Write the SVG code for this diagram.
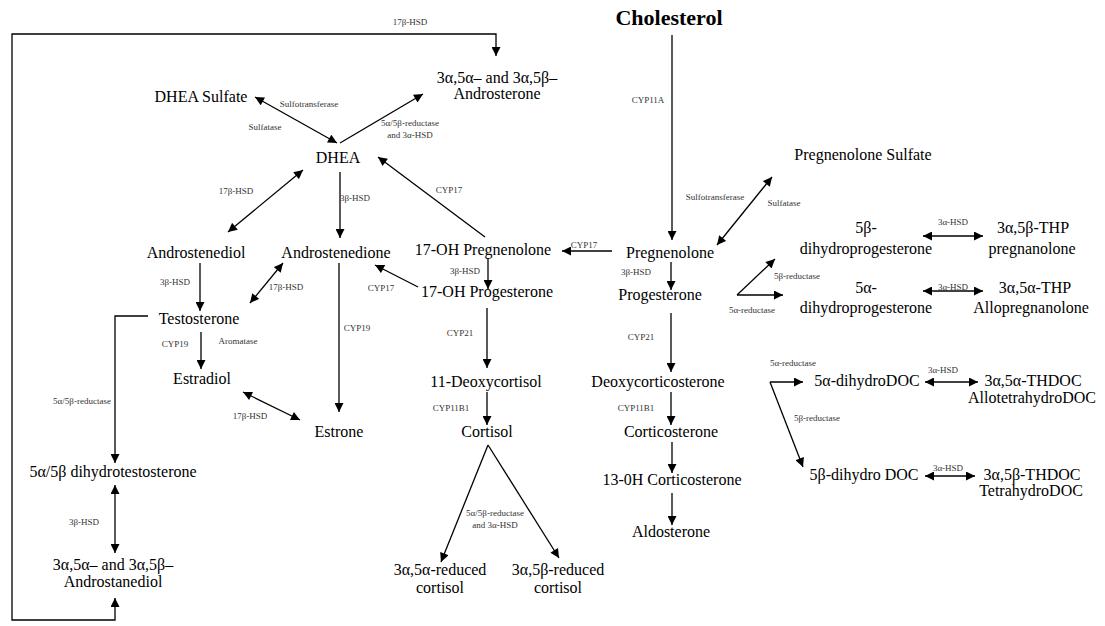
<svg xmlns="http://www.w3.org/2000/svg" width="1105" height="626" viewBox="0 0 1105 626">
<style>
text{font-family:"Liberation Serif","Times New Roman",serif;fill:#000}
.n{font-size:16px;text-anchor:middle}
.t{font-size:22px;font-weight:bold;text-anchor:middle}
.e{font-size:9px;text-anchor:middle;fill:#333}
.c path{fill:none;stroke:#000;stroke-width:1.3}
.a{marker-end:url(#ah)}
.b{marker-start:url(#ah);marker-end:url(#ah)}
</style>
<defs>
<marker id="ah" viewBox="0 0 10 10" refX="10" refY="5" markerWidth="10" markerHeight="9" markerUnits="userSpaceOnUse" orient="auto-start-reverse"><path d="M0,0 L10,5 L0,10 z" fill="#000"/></marker>
</defs>
<rect width="1105" height="626" fill="#fff"/>
<g id="connectors" class="c">
<path class="a" d="M672,35 V240"/>
<path class="b" d="M115,598 V620 H12 V34 H496 V56"/>
<path class="b" d="M255,97 L337,143"/>
<path class="a" d="M340,143 L423,94"/>
<path class="b" d="M303,170 L228,232"/>
<path class="a" d="M340,172 V238"/>
<path class="a" d="M485,237 L378,157"/>
<path class="a" d="M200,263 V311"/>
<path class="b" d="M283,263 L250,303"/>
<path class="a" d="M148,316 H115 V463"/>
<path class="a" d="M201,332 V369"/>
<path class="b" d="M243,392 L300,420"/>
<path class="a" d="M339,263 V412"/>
<path class="a" d="M488,258 V289"/>
<path class="a" d="M418,287 L375,265"/>
<path class="a" d="M612,251 H562"/>
<path class="a" d="M671,262 V290"/>
<path class="a" d="M671,313 V372"/>
<path class="a" d="M487,308 V368"/>
<path class="a" d="M487,392 V425"/>
<path class="a" d="M488,445 L441,562"/>
<path class="a" d="M488,445 L559,558"/>
<path class="a" d="M671,392 V425"/>
<path class="a" d="M672,442 V473"/>
<path class="a" d="M672,493 V525"/>
<path class="b" d="M717,245 L772,177"/>
<path class="a" d="M737,295 H783"/>
<path class="a" d="M737,295 L775,259"/>
<path class="b" d="M923,236 H983"/>
<path class="b" d="M923,291 H983"/>
<path class="a" d="M770,382 H803"/>
<path class="a" d="M770,382 L803,467"/>
<path class="b" d="M925,382 H978"/>
<path class="b" d="M925,476 H975"/>
<path class="b" d="M115,485 V553"/>
</g>
<g id="enzyme-labels">
<text class="e" x="410" y="25">17β-HSD</text>
<text class="e" x="648" y="103">CYP11A</text>
<text class="e" x="309" y="107">Sulfotransferase</text>
<text class="e" x="265" y="130">Sulfatase</text>
<text class="e" x="410" y="126">5α/5β-reductase</text>
<text class="e" x="410" y="138">and 3α-HSD</text>
<text class="e" x="236" y="194">17β-HSD</text>
<text class="e" x="355" y="201">3β-HSD</text>
<text class="e" x="449" y="193">CYP17</text>
<text class="e" x="175" y="285">3β-HSD</text>
<text class="e" x="286" y="290">17β-HSD</text>
<text class="e" x="82" y="404">5α/5β-reductase</text>
<text class="e" x="175" y="347">CYP19</text>
<text class="e" x="238" y="344">Aromatase</text>
<text class="e" x="250" y="419">17β-HSD</text>
<text class="e" x="357" y="331">CYP19</text>
<text class="e" x="465" y="274">3β-HSD</text>
<text class="e" x="381" y="291">CYP17</text>
<text class="e" x="584" y="248">CYP17</text>
<text class="e" x="636" y="275">3β-HSD</text>
<text class="e" x="641" y="340">CYP21</text>
<text class="e" x="460" y="336">CYP21</text>
<text class="e" x="451" y="411">CYP11B1</text>
<text class="e" x="636" y="411">CYP11B1</text>
<text class="e" x="495" y="516">5α/5β-reductase</text>
<text class="e" x="495" y="528">and 3α-HSD</text>
<text class="e" x="715" y="200">Sulfotransferase</text>
<text class="e" x="784" y="206">Sulfatase</text>
<text class="e" x="797" y="279">5β-reductase</text>
<text class="e" x="752" y="313">5α-reductase</text>
<text class="e" x="953" y="225">3α-HSD</text>
<text class="e" x="953" y="290">3α-HSD</text>
<text class="e" x="793" y="366">5α-reductase</text>
<text class="e" x="817" y="421">5β-reductase</text>
<text class="e" x="943" y="373">3α-HSD</text>
<text class="e" x="948" y="471">3α-HSD</text>
<text class="e" x="84" y="525">3β-HSD</text>
</g>
<g id="cholesterol"><text class="t" x="669" y="25">Cholesterol</text></g>
<g id="androsterone"><text class="n" x="497" y="83">3α,5α– and 3α,5β–</text><text class="n" x="497" y="99">Androsterone</text></g>
<g id="dhea-sulfate"><text class="n" x="201" y="102">DHEA Sulfate</text></g>
<g id="dhea"><text class="n" x="338" y="163">DHEA</text></g>
<g id="pregnenolone-sulfate"><text class="n" x="863" y="160">Pregnenolone Sulfate</text></g>
<g id="androstenediol"><text class="n" x="196" y="258">Androstenediol</text></g>
<g id="androstenedione"><text class="n" x="336" y="258">Androstenedione</text></g>
<g id="oh-pregnenolone"><text class="n" x="483" y="255">17-OH Pregnenolone</text></g>
<g id="oh-progesterone"><text class="n" x="487" y="297">17-OH Progesterone</text></g>
<g id="pregnenolone"><text class="n" x="670" y="258">Pregnenolone</text></g>
<g id="progesterone"><text class="n" x="660" y="300">Progesterone</text></g>
<g id="testosterone"><text class="n" x="199" y="324">Testosterone</text></g>
<g id="estradiol"><text class="n" x="202" y="384">Estradiol</text></g>
<g id="estrone"><text class="n" x="339" y="437">Estrone</text></g>
<g id="deoxycortisol"><text class="n" x="486" y="387">11-Deoxycortisol</text></g>
<g id="deoxycorticosterone"><text class="n" x="658" y="387">Deoxycorticosterone</text></g>
<g id="cortisol"><text class="n" x="487" y="437">Cortisol</text></g>
<g id="corticosterone"><text class="n" x="671" y="437">Corticosterone</text></g>
<g id="oh-corticosterone"><text class="n" x="672" y="485">13-0H Corticosterone</text></g>
<g id="aldosterone"><text class="n" x="671" y="537">Aldosterone</text></g>
<g id="reduced-cortisol-5a"><text class="n" x="440" y="575">3α,5α-reduced</text><text class="n" x="440" y="593">cortisol</text></g>
<g id="reduced-cortisol-5b"><text class="n" x="558" y="575">3α,5β-reduced</text><text class="n" x="558" y="593">cortisol</text></g>
<g id="dhp-5b"><text class="n" x="866" y="233">5β-</text><text class="n" x="866" y="254">dihydroprogesterone</text></g>
<g id="thp-5b"><text class="n" x="1033" y="233">3α,5β-THP</text><text class="n" x="1032" y="254">pregnanolone</text></g>
<g id="dhp-5a"><text class="n" x="866" y="293">5α-</text><text class="n" x="866" y="313">dihydroprogesterone</text></g>
<g id="thp-5a"><text class="n" x="1035" y="293">3α,5α-THP</text><text class="n" x="1031" y="313">Allopregnanolone</text></g>
<g id="dihydrodoc-5a"><text class="n" x="867" y="386">5α-dihydroDOC</text></g>
<g id="thdoc-5a"><text class="n" x="1033" y="386">3α,5α-THDOC</text><text class="n" x="1032" y="403">AllotetrahydroDOC</text></g>
<g id="dihydrodoc-5b"><text class="n" x="864" y="480">5β-dihydro DOC</text></g>
<g id="thdoc-5b"><text class="n" x="1032" y="480">3α,5β-THDOC</text><text class="n" x="1031" y="496">TetrahydroDOC</text></g>
<g id="dht"><text class="n" x="113" y="477">5α/5β dihydrotestosterone</text></g>
<g id="androstanediol"><text class="n" x="113" y="570">3α,5α– and 3α,5β–</text><text class="n" x="113" y="587">Androstanediol</text></g>
</svg>
